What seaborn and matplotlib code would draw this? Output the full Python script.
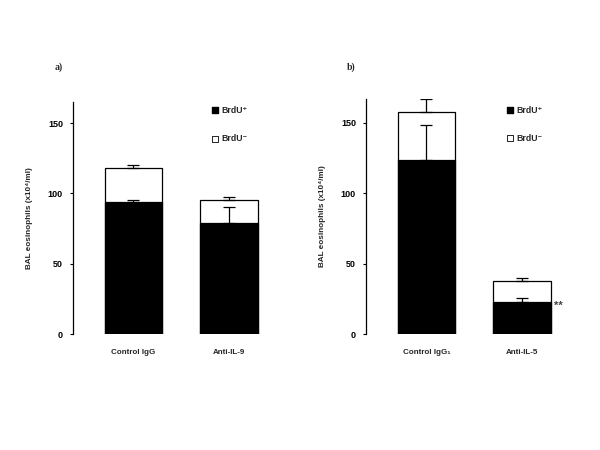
import numpy as np
import pandas as pd
import matplotlib
matplotlib.use('Agg')
import matplotlib.pyplot as plt
import seaborn as sns

# panel a
groups_a = ['Control IgG', 'Anti-IL-9']
total_a = [118, 95]
total_err_a = [2, 2.5]
pos_a = [94, 79]
pos_err_a = [1.5, 11.5]

# panel b
groups_b = ['Control IgG\u2081', 'Anti-IL-5']
total_b = [158, 37.5]
total_err_b = [9, 2.3]
pos_b = [124, 22.5]
pos_err_b = [24.5, 3]

yticks = [0, 50, 100, 150]
ylabel = 'BAL eosinophils (x10\u2074/ml)'

sns.set_theme(style="white")
plt.rcParams['font.family'] = ['Liberation Sans', 'DejaVu Sans']

fig = plt.figure(figsize=(6, 4.5), dpi=100)
ax_a = fig.add_axes([73 / 600, 1 - 334 / 450, 252 / 600, 232 / 450])
ax_b = fig.add_axes([366 / 600, 1 - 334 / 450, 252 / 600, 235 / 450])


def draw_panel(ax, groups, total, total_err, pos, pos_err, ytop, leg_x, star=False):
    df = pd.DataFrame({'group': groups, 'total': total, 'pos': pos})
    sns.barplot(data=df, x='group', y='total', order=groups, color='white',
                edgecolor='black', linewidth=0.9, width=0.6, saturation=1, ax=ax)
    sns.barplot(data=df, x='group', y='pos', order=groups, color='black',
                edgecolor='black', linewidth=0.9, width=0.6, saturation=1, ax=ax)
    xs = np.arange(len(groups))
    ax.errorbar(xs, total, yerr=[np.zeros(len(xs)), total_err], fmt='none',
                ecolor='black', elinewidth=0.9, capsize=4, capthick=0.9, zorder=5)
    ax.errorbar(xs, pos, yerr=[np.zeros(len(xs)), pos_err], fmt='none',
                ecolor='black', elinewidth=0.9, capsize=4, capthick=0.9, zorder=5)
    ax.set_xlim(-0.63, 2.0)
    ax.set_ylim(0, ytop)
    ax.set_yticks(yticks)
    ax.set_yticklabels([str(t) for t in yticks], fontsize=6.5, fontweight='bold')
    ax.tick_params(axis='y', direction='out', length=2, width=0.8, pad=5.2, left=True, colors='black')
    ax.tick_params(axis='x', length=0, pad=11)
    for lbl in ax.get_xticklabels():
        lbl.set_fontsize(5.8)
        lbl.set_fontweight('bold')
    ax.set_xlabel('')
    ax.set_ylabel(ylabel, fontsize=5.9, fontweight='bold')
    ax.yaxis.set_label_coords(-40 / 252, 0.5)
    for s in ['top', 'right', 'bottom']:
        ax.spines[s].set_visible(False)
    ax.spines['left'].set_color('black')
    ax.spines['left'].set_linewidth(0.9)
    ax.set_facecolor('none')
    # legend
    ax.scatter([leg_x], [159], marker='s', s=24, color='black', clip_on=False, zorder=6)
    ax.scatter([leg_x], [139], marker='s', s=24, facecolor='white', edgecolor='black',
               linewidth=0.6, clip_on=False, zorder=6)
    ax.text(leg_x + 0.07, 159, 'BrdU\u207a', fontsize=6.3, fontweight='bold', va='center', ha='left')
    ax.text(leg_x + 0.07, 139, 'BrdU\u207b', fontsize=6.3, fontweight='bold', va='center', ha='left')
    if star:
        ax.text(1 + 0.33, 20, '**', fontsize=8, fontweight='bold', va='center', ha='left',
                color='#444444')


draw_panel(ax_a, groups_a, total_a, total_err_a, pos_a, pos_err_a, 165, 0.85)
draw_panel(ax_b, groups_b, total_b, total_err_b, pos_b, pos_err_b, 167, 0.87, star=True)

fig.text(55 / 600, 1 - 67 / 450, 'a)', fontsize=7, fontweight='bold',
         family=['Liberation Serif', 'DejaVu Serif'], ha='left', va='center')
fig.text(347 / 600, 1 - 67 / 450, 'b)', fontsize=7, fontweight='bold',
         family=['Liberation Serif', 'DejaVu Serif'], ha='left', va='center')

fig.savefig('out.png', dpi=100, facecolor='white')
